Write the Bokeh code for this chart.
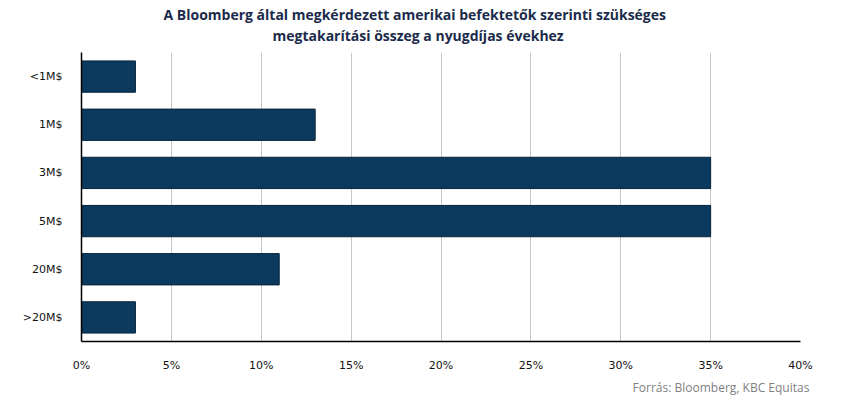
from bokeh.plotting import figure
from bokeh.models import Range1d, FactorRange, FixedTicker, Title, ColumnDataSource
from bokeh.embed import file_html
from bokeh.resources import INLINE

categories = ["<1M$", "1M$", "3M$", "5M$", "20M$", ">20M$"]
values = [3, 13, 35, 35, 11, 3]
x_ticks = [0, 5, 10, 15, 20, 25, 30, 35, 40]
x_tick_labels = ["0%", "5%", "10%", "15%", "20%", "25%", "30%", "35%", "40%"]
title_lines = ["A Bloomberg által megkérdezett amerikai befektetők szerinti szükséges",
               "megtakarítási összeg a nyugdíjas évekhez"]
source_text = "Forrás: Bloomberg,  KBC Equitas"

src = ColumnDataSource(dict(cat=categories, val=values))

p = figure(width=850, height=398, output_backend="svg", toolbar_location=None,
           y_range=FactorRange(factors=list(reversed(categories)), range_padding=0),
           x_range=Range1d(0, 40),
           min_border_left=81, min_border_right=50, min_border_top=52, min_border_bottom=56)

p.hbar(y="cat", right="val", left=0, height=0.65, source=src,
       fill_color="#0b3a5e", line_color="#06243c", line_width=1)

p.outline_line_color = None
p.ygrid.grid_line_color = None
p.xgrid.grid_line_color = "#c8c8c8"
p.xgrid.ticker = FixedTicker(ticks=x_ticks)

p.xaxis.ticker = FixedTicker(ticks=x_ticks)
p.xaxis.major_label_overrides = {t: l for t, l in zip(x_ticks, x_tick_labels)}
for ax in (p.xaxis, p.yaxis):
    ax.axis_line_color = "black"
    ax.axis_line_width = 1.5
    ax.major_tick_line_color = None
    ax.minor_tick_line_color = None
    ax.major_label_text_font = "DejaVu Sans"
    ax.major_label_text_font_size = "11px"
    ax.major_label_text_color = "#111111"
p.xaxis.major_label_standoff = 11
p.yaxis.major_label_standoff = 13

spacer = Title(text=" ", text_font_size="5px", standoff=0)
line2 = Title(text=title_lines[1], align="left",
              text_font="Open Sans", text_font_style="bold", text_font_size="14px",
              text_color="#1b2b4b", offset=191, standoff=0)
line1 = Title(text=title_lines[0],
              align="left", text_font="Open Sans", text_font_style="bold",
              text_font_size="14px", text_color="#1b2b4b", offset=82, standoff=0)
p.add_layout(spacer, "above")
p.add_layout(line2, "above")
p.add_layout(line1, "above")

src_title = Title(text=source_text, align="right",
                  text_font="Open Sans", text_font_style="normal", text_font_size="12px",
                  text_color="#7f7f7f", offset=-12, standoff=5)
p.add_layout(src_title, "below")

open("out.html", "w").write(file_html(p, INLINE))
